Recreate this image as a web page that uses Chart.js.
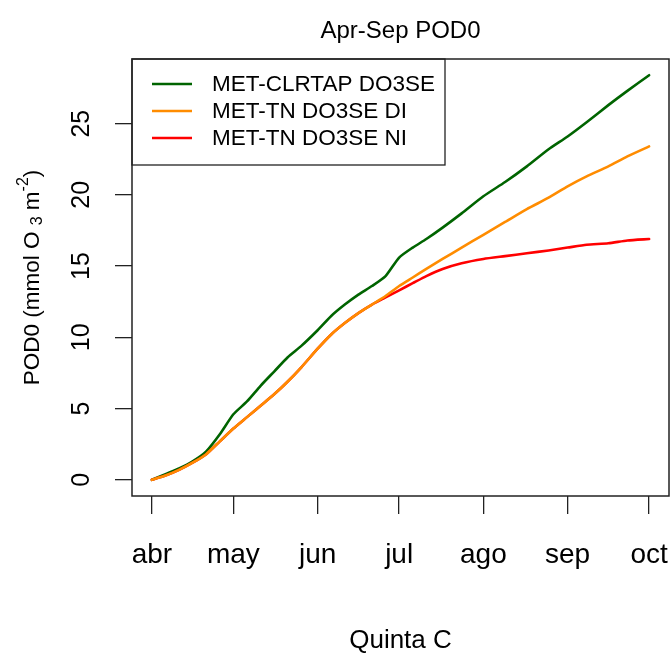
<!DOCTYPE html>
<html lang="es">
<head>
<meta charset="UTF-8">
<script src="https://cdn.jsdelivr.net/npm/chart.js"></script>
<title>Apr-Sep POD0</title>
<style>
    body { margin: 0; background: #fff; }
    canvas { display: block; }
</style>
</head>
<body>
<canvas id="podChart" width="671" height="656"></canvas>
<script>
// days since 1 April
const days = [0, 5, 10, 15, 20, 25, 30, 35, 40, 45, 50, 55, 61, 66, 71, 76, 81, 86, 91, 96, 101, 107, 114, 122, 130, 138, 146, 153, 160, 168, 175, 183];

const clrtap = [0, 0.4, 0.8, 1.3, 2.0, 3.2, 4.6, 5.5, 6.6, 7.6, 8.6, 9.4, 10.5, 11.5, 12.3, 13.0, 13.6, 14.3, 15.6, 16.3, 16.9, 17.7, 18.7, 19.9, 20.9, 22.0, 23.2, 24.1, 25.1, 26.3, 27.3, 28.4];
const tnDI = [0, 0.3, 0.7, 1.2, 1.8, 2.7, 3.6, 4.4, 5.2, 6.0, 6.9, 7.9, 9.2, 10.2, 11.0, 11.7, 12.3, 12.9, 13.6, 14.2, 14.8, 15.5, 16.3, 17.2, 18.1, 19.0, 19.8, 20.6, 21.3, 22.0, 22.7, 23.4];
const tnNI = [0, 0.3, 0.7, 1.2, 1.8, 2.7, 3.6, 4.4, 5.2, 6.0, 6.9, 7.9, 9.2, 10.2, 11.0, 11.7, 12.3, 12.8, 13.3, 13.8, 14.3, 14.8, 15.2, 15.5, 15.7, 15.9, 16.1, 16.3, 16.5, 16.6, 16.8, 16.9];

const monthDays = [0, 30, 61, 91, 122, 153, 183];
const monthLabels = ['abr', 'may', 'jun', 'jul', 'ago', 'sep', 'oct'];
const yTicks = [0, 5, 10, 15, 20, 25];

const FONT = 'Arial, "Liberation Sans", sans-serif';

// R-style 4% range extension
const xPad = (days[days.length - 1] - days[0]) * 0.04;
const yMaxData = Math.max(...clrtap, ...tnDI, ...tnNI);
const yPad = yMaxData * 0.04;

const toPoints = vals => vals.map((v, i) => ({ x: days[i], y: v }));

const decor = {
    id: 'decor',
    afterDatasetsDraw(chart) {
        const { ctx, chartArea: a, scales } = chart;
        ctx.save();
        // title
        ctx.fillStyle = '#000';
        ctx.font = '24px ' + FONT;
        ctx.textAlign = 'center';
        ctx.textBaseline = 'middle';
        ctx.fillText('Apr-Sep POD0', (a.left + a.right) / 2, 31);

        // y tick labels, vertical like base R
        ctx.font = '25px ' + FONT;
        yTicks.forEach(v => {
            const y = scales.y.getPixelForValue(v);
            ctx.save();
            ctx.translate(82, y);
            ctx.rotate(-Math.PI / 2);
            ctx.fillText(String(v), 0, 0);
            ctx.restore();
        });

        // y axis title with sub/superscripts
        ctx.save();
        ctx.translate(33, (a.top + a.bottom) / 2);
        ctx.rotate(-Math.PI / 2);
        const parts = [
            { t: 'POD0 (mmol O ', s: 22.5, dy: 0 },
            { t: '3', s: 16, dy: 5 },
            { t: ' m', s: 22.5, dy: 0 },
            { t: '-2', s: 16, dy: -9 },
            { t: ')', s: 22.5, dy: 0 }
        ];
        let total = 0;
        parts.forEach(p => { ctx.font = p.s + 'px ' + FONT; total += ctx.measureText(p.t).width; });
        let px = -total / 2;
        ctx.textAlign = 'left';
        parts.forEach(p => {
            ctx.font = p.s + 'px ' + FONT;
            ctx.fillText(p.t, px, p.dy);
            px += ctx.measureText(p.t).width;
        });
        ctx.restore();

        // legend box in the top-left corner of the plot
        const lw = 313, lh = 106;
        ctx.fillStyle = '#fff';
        ctx.fillRect(a.left, a.top, lw, lh);
        ctx.strokeStyle = '#222';
        ctx.lineWidth = 1.3;
        ctx.strokeRect(a.left, a.top, lw, lh);
        ctx.font = '22.5px ' + FONT;
        ctx.textAlign = 'left';
        chart.data.datasets.forEach((ds, i) => {
            const y = a.top + 25 + i * 27;
            ctx.strokeStyle = ds.borderColor;
            ctx.lineWidth = 2.5;
            ctx.beginPath();
            ctx.moveTo(a.left + 20, y);
            ctx.lineTo(a.left + 60, y);
            ctx.stroke();
            ctx.fillStyle = '#000';
            ctx.fillText(ds.label, a.left + 80, y + 1);
        });

        // plot frame
        ctx.strokeStyle = '#222';
        ctx.lineWidth = 1.5;
        ctx.strokeRect(a.left, a.top, a.right - a.left, a.bottom - a.top);
        ctx.restore();
    }
};

new Chart(document.getElementById('podChart'), {
    type: 'line',
    data: {
        datasets: [
            { label: 'MET-CLRTAP DO3SE', data: toPoints(clrtap), borderColor: '#006400', order: 3 },
            { label: 'MET-TN DO3SE DI', data: toPoints(tnDI), borderColor: '#FF8C00', order: 1 },
            { label: 'MET-TN DO3SE NI', data: toPoints(tnNI), borderColor: '#FF0000', order: 2 }
        ]
    },
    options: {
        responsive: false,
        animation: false,
        events: [],
        elements: {
            point: { radius: 0 },
            line: { borderWidth: 2.6, tension: 0.2, borderCapStyle: 'round' }
        },
        layout: { padding: { top: 59, right: 2, left: 0, bottom: 0 } },
        plugins: { legend: { display: false }, tooltip: { enabled: false } },
        scales: {
            x: {
                type: 'linear',
                min: days[0] - xPad,
                max: days[days.length - 1] + xPad,
                afterBuildTicks: s => { s.ticks = monthDays.map(v => ({ value: v })); },
                afterFit: s => {
                    s.height = 160;
                    s.paddingLeft = 0;
                    s.paddingRight = 0;
                },
                ticks: {
                    autoSkip: false,
                    maxRotation: 0,
                    padding: 24,
                    color: '#000',
                    font: { family: FONT, size: 28 },
                    callback: v => monthLabels[monthDays.indexOf(v)]
                },
                grid: { drawOnChartArea: false, drawTicks: true, tickLength: 18, color: '#222', lineWidth: 1.3 },
                border: { display: false },
                title: {
                    display: true,
                    text: 'Quinta C',
                    color: '#000',
                    font: { family: FONT, size: 26 },
                    padding: { top: 0, bottom: 0 }
                }
            },
            y: {
                min: -yPad,
                max: yMaxData + yPad,
                afterBuildTicks: s => { s.ticks = yTicks.map(v => ({ value: v })); },
                afterFit: s => { s.width = 132; },
                ticks: { callback: () => '' },
                grid: { drawOnChartArea: false, drawTicks: true, tickLength: 17, color: '#222', lineWidth: 1.3 },
                border: { display: false }
            }
        }
    },
    plugins: [decor]
});
</script>
</body>
</html>
